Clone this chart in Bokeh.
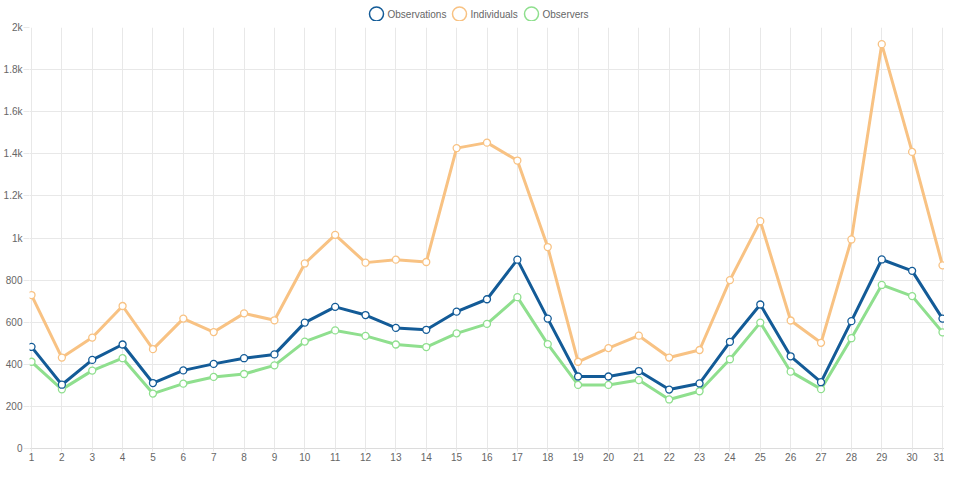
from bokeh.plotting import figure
from bokeh.models import ColumnDataSource, Range1d, FixedTicker
from bokeh.core.properties import value
from bokeh.layouts import column
from bokeh.embed import file_html
from bokeh.resources import INLINE

# daily counts
days = list(range(1, 32))
observations = [483, 303, 421, 494, 311, 371, 402, 429, 447, 598, 673, 634, 573, 564, 650, 709,
                897, 617, 342, 342, 368, 280, 309, 507, 684, 438, 315, 605, 898, 844, 617]
individuals = [729, 432, 527, 677, 472, 617, 553, 642, 609, 879, 1015, 883, 897, 886, 1427, 1453,
               1368, 957, 412, 477, 536, 432, 468, 800, 1080, 608, 502, 993, 1921, 1409, 870]
observers = [412, 281, 370, 429, 261, 308, 340, 354, 395, 508, 561, 535, 494, 482, 547, 592,
             719, 496, 302, 302, 325, 233, 272, 424, 598, 365, 282, 524, 777, 724, 552]
y_ticks = [0, 200, 400, 600, 800, 1000, 1200, 1400, 1600, 1800, 2000]
y_labels = ["0", "200", "400", "600", "800", "1k", "1.2k", "1.4k", "1.6k", "1.8k", "2k"]

series_names = ["Observations", "Individuals", "Observers"]
series_colors = ["#135b97", "#f8c283", "#8fdf8e"]

source = ColumnDataSource(data=dict(day=days, observations=observations,
                                    individuals=individuals, observers=observers))

FONT = "Liberation Sans"
GRID = "#e8e8e8"
TEXT = "#666666"
LEFT = 29   # left border of the plot frame, px

pad = 0.066
p = figure(width=944, height=443, output_backend="svg", toolbar_location=None,
           x_range=Range1d(1 - pad, 31 + pad), y_range=Range1d(0, 2000),
           min_border_left=LEFT, min_border_right=0, min_border_top=6, min_border_bottom=16)
p.outline_line_color = None

p.xaxis.ticker = FixedTicker(ticks=days)
p.yaxis.ticker = FixedTicker(ticks=y_ticks)
p.yaxis.major_label_overrides = {t: l for t, l in zip(y_ticks, y_labels)}

for ax in (p.xaxis, p.yaxis):
    ax.major_label_text_font = FONT
    ax.major_label_text_font_size = "10px"
    ax.major_label_text_color = TEXT
    ax.minor_tick_line_color = None
    ax.major_tick_in = 0
    ax.major_tick_line_color = GRID

p.xaxis.axis_line_color = "#dcdcdc"
p.xaxis.major_tick_out = 3
p.xaxis.major_label_standoff = 1
p.yaxis.axis_line_color = None
p.yaxis.major_tick_out = 6
p.yaxis.major_label_standoff = 1

p.xgrid.grid_line_color = GRID
p.ygrid.grid_line_color = GRID

# later datasets underneath, like the original
for name, color in reversed(list(zip(series_names, series_colors))):
    col = name.lower()
    p.line("day", col, source=source, line_color=color, line_width=3, line_join="round")
    p.scatter("day", col, source=source, size=7, marker="circle",
              fill_color="white", line_color=color, line_width=1.3)

# legend strip on top of the chart; the column aligns its frame with the chart's,
# so its x range is given in page pixels from LEFT to the right edge
lg = figure(width=944, height=21, output_backend="svg", toolbar_location=None,
            x_range=Range1d(LEFT, 944), y_range=Range1d(21, 0), min_border=0,
            x_axis_type=None, y_axis_type=None)
lg.grid.visible = False
lg.outline_line_color = None

key_x = [376, 459, 531]   # circle centres of the legend entries
key_y = 13.5
keys = ColumnDataSource(data=dict(x=key_x, tx=[k + 11 for k in key_x], y=[key_y] * 3,
                                  name=series_names, color=series_colors))
lg.scatter("x", "y", source=keys, marker="circle", size=14, fill_color="white",
           line_color="color", line_width=1.5)
lg.text("tx", "y", text="name", source=keys, text_font=value(FONT), text_font_size="10px",
        text_color=TEXT, text_baseline="middle", text_align="left")

open("out.html", "w").write(file_html(column(lg, p, spacing=0), INLINE))
